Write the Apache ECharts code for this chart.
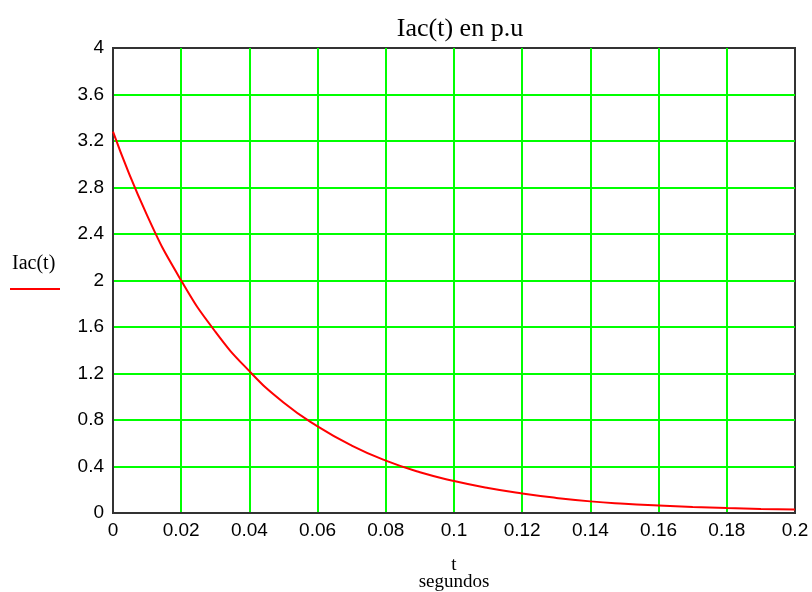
<!DOCTYPE html>
<html>
<head>
<meta charset="utf-8">
<script src="https://cdn.jsdelivr.net/npm/echarts@6/dist/echarts.min.js"></script>
<style>html,body{margin:0;padding:0;background:#fff}#c{width:812px;height:592px}</style>
</head>
<body>
<div id="c"></div>
<script>
var title = 'Iac(t) en p.u';
var seriesName = 'Iac(t)';
var tValues = [0, 0.01, 0.02, 0.03, 0.04, 0.05, 0.06, 0.07, 0.08, 0.09, 0.1, 0.11, 0.12, 0.13, 0.14, 0.15, 0.16, 0.17, 0.18, 0.19, 0.2];
var iacValues = [3.28, 2.56, 2.00, 1.56, 1.22, 0.95, 0.745, 0.58, 0.45, 0.35, 0.275, 0.215, 0.168, 0.13, 0.10, 0.08, 0.065, 0.052, 0.042, 0.035, 0.03];
var xTicks = {min: 0, max: 0.2, interval: 0.02};
var yTicks = {min: 0, max: 4, interval: 0.4};
var xName = 't\nsegundos';

var data = tValues.map(function (t, i) { return [t, iacValues[i]]; });
var serif = '"Liberation Serif", "Times New Roman", serif';
var sans = '"Liberation Sans", Arial, sans-serif';

var chart = echarts.init(document.getElementById('c'));
chart.setOption({
  animation: false,
  backgroundColor: '#fff',
  title: {
    text: title, left: 455, top: 11, textAlign: 'center',
    textStyle: {fontFamily: serif, fontSize: 26, fontWeight: 'normal', color: '#000'}
  },
  grid: {
    left: 113, right: 17, top: 48, bottom: 79,
    containLabel: false, outerBoundsMode: 'none',
    show: true, borderColor: '#333', borderWidth: 2, backgroundColor: 'transparent'
  },
  xAxis: {
    type: 'value', min: xTicks.min, max: xTicks.max, interval: xTicks.interval,
    name: xName, nameLocation: 'middle', nameGap: 44,
    nameTextStyle: {fontFamily: serif, fontSize: 19, color: '#000', lineHeight: 17},
    axisLine: {show: true, onZero: false, lineStyle: {color: '#333', width: 2}},
    axisTick: {show: false},
    axisLabel: {
      fontFamily: sans, fontSize: 19, color: '#000', margin: 8,
      formatter: function (v) { return String(+v.toFixed(2)); }
    },
    splitLine: {show: true, showMinLine: false, showMaxLine: false, lineStyle: {color: '#00ff00', width: 2}}
  },
  yAxis: {
    type: 'value', min: yTicks.min, max: yTicks.max, interval: yTicks.interval,
    axisLine: {show: true, onZero: false, lineStyle: {color: '#333', width: 2}},
    axisTick: {show: false},
    axisLabel: {
      fontFamily: sans, fontSize: 19, color: '#000', margin: 9, padding: [4, 0, 0, 0],
      formatter: function (v) { return String(+v.toFixed(1)); }
    },
    splitLine: {show: true, showMinLine: false, showMaxLine: false, lineStyle: {color: '#00ff00', width: 2}}
  },
  graphic: [
    {type: 'text', left: 12, top: 254, style: {text: seriesName, fontFamily: serif, fontSize: 20, fill: '#000'}},
    {type: 'line', shape: {x1: 10, y1: 289, x2: 60, y2: 289}, style: {stroke: '#ff0000', lineWidth: 2}}
  ],
  series: [{
    name: seriesName, type: 'line', data: data, smooth: true, showSymbol: false,
    lineStyle: {color: '#ff0000', width: 2}, z: 5
  }]
});
</script>
</body>
</html>
